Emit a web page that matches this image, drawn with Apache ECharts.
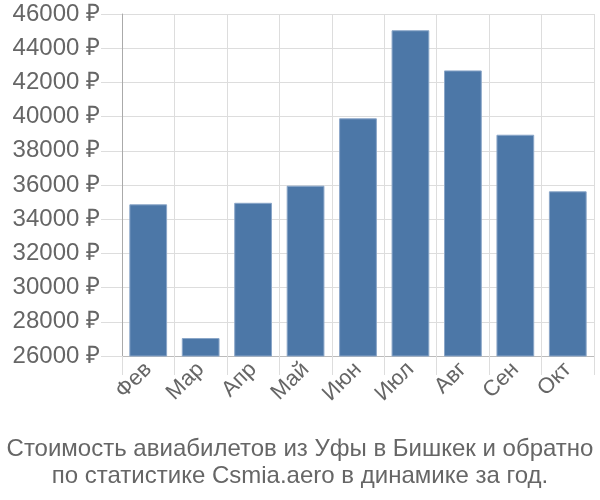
<!DOCTYPE html>
<html><head><meta charset="utf-8">
<script src="https://cdn.jsdelivr.net/npm/echarts@6/dist/echarts.min.js"></script>
<style>html,body{margin:0;padding:0;background:#fff}#c{width:600px;height:500px}</style>
</head><body><div id="c"></div>
<script>
var categories = ['Фев','Мар','Апр','Май','Июн','Июл','Авг','Сен','Окт'];
var prices = [34870, 27050, 34960, 35960, 39900, 45050, 42700, 38940, 35630];
var titleLines = ['Стоимость авиабилетов из Уфы в Бишкек и обратно','по статистике Csmia.aero в динамике за год.'];

var FONT = 'Liberation Sans';
var chart = echarts.init(document.getElementById('c'), null, {renderer:'canvas'});
chart.setOption({
  animation:false,
  backgroundColor:'#fff',
  textStyle:{fontFamily:FONT},
  title:{
    text: titleLines.join('\n'),
    left:'center', top:431,
    textStyle:{fontSize:24, fontWeight:'normal', color:'#666', lineHeight:27, fontFamily:FONT}
  },
  grid:{left:122, right:6, top:14, bottom:144, containLabel:false},
  xAxis:{
    type:'category', data:categories,
    axisLine:{show:true, lineStyle:{color:'#bbb', width:1}},
    axisTick:{show:true, length:19, lineStyle:{color:'#ddd'}},
    splitLine:{show:true, lineStyle:{color:'#ddd', width:1}},
    axisLabel:{rotate:45, fontSize:22, color:'#666', margin:10, interval:0, fontFamily:FONT}
  },
  yAxis:{
    type:'value', min:26000, max:46000, interval:2000,
    axisLine:{show:true, lineStyle:{color:'#aaa', width:1}},
    axisTick:{show:true, length:21, lineStyle:{color:'#ddd'}},
    splitLine:{show:true, lineStyle:{color:'#ddd', width:1}},
    axisLabel:{fontSize:24, color:'#666', margin:22, fontFamily:FONT, formatter:function(v){return v+' ₽';}}
  },
  series:[{
    type:'bar', data:prices, barCategoryGap:'28%',
    itemStyle:{color:'#4c77a7', borderColor:'#8aa6c8', borderWidth:1}
  }]
});
</script></body></html>
